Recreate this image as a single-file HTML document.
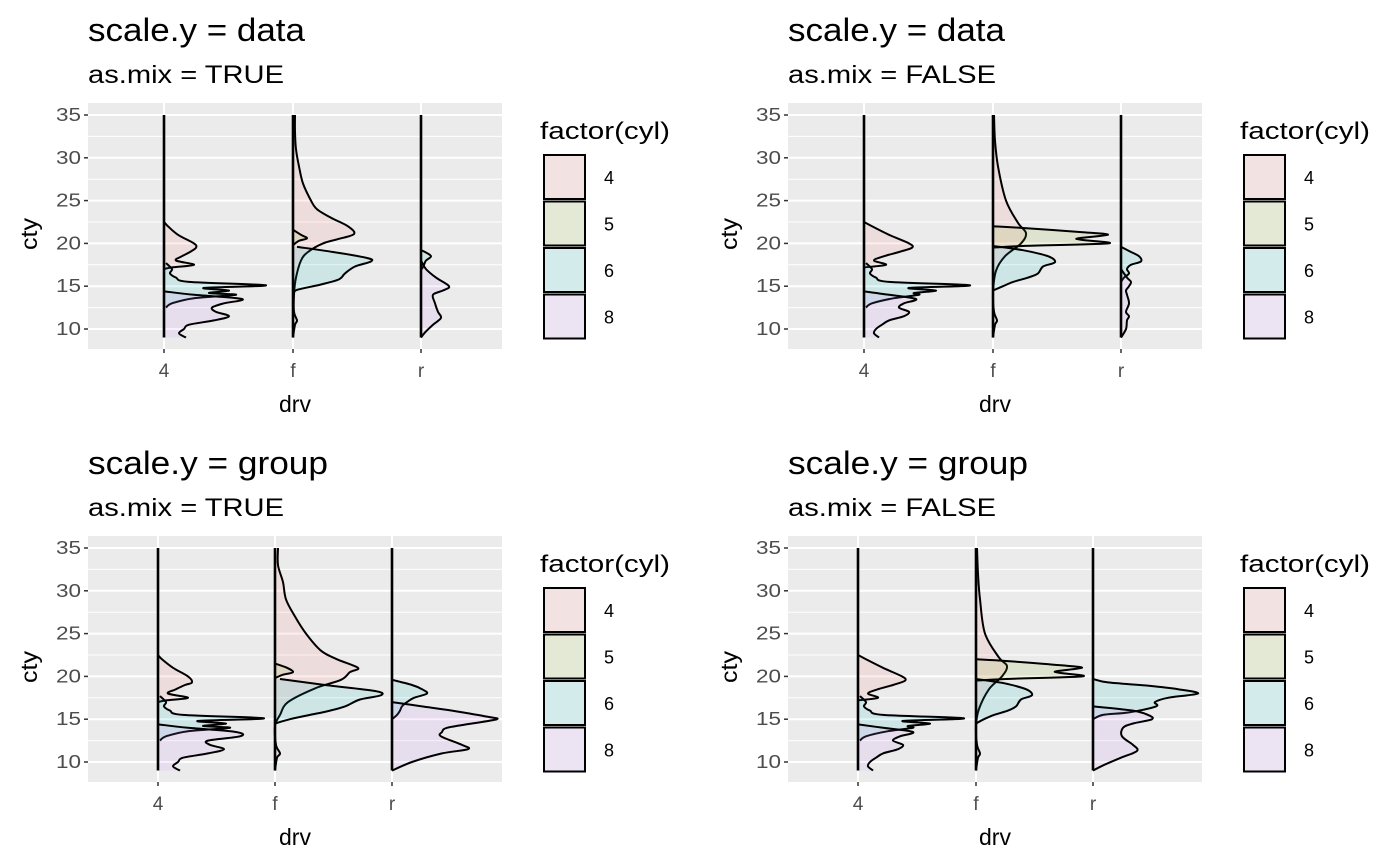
<!DOCTYPE html>
<html><head><meta charset="utf-8">
<style>
html,body{margin:0;padding:0;background:#fff;}
svg{display:block;font-family:"Liberation Sans",Arial,sans-serif;}
</style></head>
<body>
<svg id="chart" width="1400" height="866" viewBox="0 0 1400 866" xmlns="http://www.w3.org/2000/svg"></svg>
<script>
// ---- data ----
const categories = ["4", "f", "r"];
const cylLevels = ["4", "5", "6", "8"];
const cylColors = ["#F8766D", "#7CAE00", "#00BFC4", "#C77CFF"];
const yTicks = [10, 15, 20, 25, 30, 35];
const panelTitles = ["scale.y = data", "scale.y = data", "scale.y = group", "scale.y = group"];
const panelSubtitles = ["as.mix = TRUE", "as.mix = FALSE", "as.mix = TRUE", "as.mix = FALSE"];

// density curves: [cty, density] pairs, per panel -> drv -> cyl
const tlDrv4Cyl4 = [[22.5,0],[22,4],[21,14],[20,30],[19.5,32],[19,26],[18.5,18],[18,12],[17.5,30],[17.2,8],[17,0]];
const tlDrv4Cyl6 = [[17.7,2],[17,8],[16.5,6],[16,12],[15.5,25],[15.1,102],[14.8,40],[14.5,65],[14.2,45],[14,72],[13.6,30],[13,8],[12.5,2]];
const tlDrv4Cyl8 = [[14.4,0],[14,30],[13.5,78],[13,60],[12.5,48],[12,52],[11.5,65],[11,50],[10.5,25],[10,20],[9.5,15],[9,22]];
const tlDrvfCyl4 = [[35,2],[33,2],[31,3],[29,6],[27,10],[25,18],[24,24],[23,38],[22,55],[21.1,61],[20.5,45],[20,30],[19,15],[18,8],[16,3],[14,1],[12,1],[11,4],[10.5,2],[9,0]];
const tlDrvfCyl5 = [[21.6,0],[21,8],[20.6,14],[20.3,6],[19.8,0]];
const tlDrvfCyl6 = [[19.6,4],[19,40],[18.3,74],[17.9,78],[17.3,62],[16.5,52],[15.8,46],[15.2,28],[14.6,5],[14.2,0]];
const tlDrvrCyl6 = [[19.2,0],[19,4],[18.5,10],[18,5],[17.5,3],[17,1]];
const tlDrvrCyl8 = [[18,0],[17,5],[16,15],[15,28],[14.5,22],[14,12],[13,14],[12,17],[11.3,20],[10.5,12],[9.6,4],[9,0]];

const trDrv4Cyl4 = [[22.5,0],[22,8],[21,25],[20,45],[19.5,48],[19,35],[18.5,20],[18,10],[17.5,22],[17.2,0]];
const trDrv4Cyl6 = [[17.7,2],[17,8],[16.5,6],[16,12],[15.5,25],[15.1,106],[14.8,45],[14.5,72],[14.2,50],[14,55],[13.6,30],[13,8],[12.5,2]];
const trDrv4Cyl8 = [[14.4,0],[14,25],[13.5,52],[13,40],[12.5,35],[12,45],[11.5,40],[11,25],[10.5,18],[10,12],[9.5,10],[9,15]];
const trDrvfCyl4 = [[35,1],[32,2],[29,5],[25,13],[22.4,25],[21.2,33],[20,28],[18.5,12],[16.8,3],[14.2,0],[12,1],[11,4],[10.5,2],[9,0]];
const trDrvfCyl5 = [[22,0],[21.8,30],[21.3,90],[21,115],[20.6,85],[20.4,90],[20,115],[19.7,30],[19.5,0]];
const trDrvfCyl6 = [[19.7,0],[19.2,30],[18.5,55],[17.8,62],[17.3,50],[16.5,45],[16,35],[15.5,20],[15,10],[14.5,0]];
const trDrvrCyl6 = [[19.6,0],[19,10],[18.5,18],[17.9,20],[17.5,10],[17,6],[16.5,8],[16,3],[15.5,0]];
const trDrvrCyl8 = [[17,0],[16,6],[15.5,10],[15,8],[14.5,5],[14,6],[13,8],[12,5],[11.5,8],[11,6],[10,5],[9,0]];

const blDrv4Cyl4 = [[22.5,0],[22,4],[21,15],[20,30],[19.3,34],[19,27],[18.5,18],[18,10],[17.5,30],[17.2,8],[17,0]];
const blDrv4Cyl6 = [[17.7,2],[17,8],[16.5,6],[16,12],[15.5,25],[15.1,106],[14.8,40],[14.5,68],[14.2,45],[14,72],[13.6,30],[13,8],[12.5,2]];
const blDrv4Cyl8 = [[14.4,0],[14,30],[13.5,78],[13,82],[12.5,50],[12,52],[11.5,66],[11,50],[10.5,25],[10,20],[9.5,15],[9,22]];
const blDrvfCyl4 = [[35,3],[33,3],[31,8],[29,11],[27,20],[25,31],[23,46],[22,62],[21,83],[20.5,75],[19.6,66],[18.6,40],[17,13],[15.5,5],[14.2,0],[12,1],[11,5],[10.5,2],[9,0]];
const blDrvfCyl5 = [[21.5,0],[21,12],[20.5,18],[20.2,8],[19.8,0]];
const blDrvfCyl6 = [[19.7,5],[19,50],[18.3,100],[17.8,106],[17.3,85],[16.5,70],[16,55],[15.5,35],[15,15],[14.5,0]];
const blDrvrCyl6 = [[19.6,0],[19,20],[18.5,30],[18,35],[17.5,22],[17,15],[16.5,10],[16,8],[15.5,5],[15,0]];
const blDrvrCyl8 = [[17,0],[16.5,30],[16,60],[15.3,95],[15,105],[14.5,80],[14,55],[13.5,50],[13,49],[12,70],[11.5,76],[11,50],[10,20],[9,0]];

const brDrv4Cyl4 = [[22.5,0],[22,8],[21,25],[20,44],[19.5,47],[19,35],[18.5,20],[18,10],[17.5,20],[17.2,0]];
const brDrv4Cyl6 = [[17.7,2],[17,8],[16.5,6],[16,12],[15.5,25],[15.1,106],[14.8,45],[14.5,72],[14.2,50],[14,55],[13.6,30],[13,8],[12.5,2]];
const brDrv4Cyl8 = [[14.4,0],[14,25],[13.5,55],[13,42],[12.5,35],[12,45],[11.5,40],[11,25],[10.5,18],[10,12],[9.5,10],[9,15]];
const brDrvfCyl4 = [[35,1],[32,2],[29,4],[25,9],[22.2,23],[21.2,31],[20,26],[18.5,13],[16.2,3],[14.2,0],[12,1],[11,4],[10.5,2],[9,0]];
const brDrvfCyl5 = [[22,0],[21.8,30],[21.3,85],[21,106],[20.6,80],[20.4,85],[20,106],[19.7,30],[19.5,0]];
const brDrvfCyl6 = [[19.7,0],[19.2,28],[18.5,50],[17.8,56],[17.3,45],[16.5,40],[16,32],[15.5,18],[15,8],[14.5,0]];
const brDrvrCyl6 = [[19.7,0],[19.3,15],[18.9,56],[18.5,85],[18,105],[17.5,75],[17,62],[16.5,63],[15.8,36],[15.5,10],[15,0]];
const brDrvrCyl8 = [[16.5,0],[16,40],[15.5,55],[15,59],[14.5,40],[14,30],[13,29],[12,40],[11.3,44],[10.5,28],[9.6,10],[9,0]];

const panelCurves = [
  [[tlDrv4Cyl4,null,tlDrv4Cyl6,tlDrv4Cyl8],[tlDrvfCyl4,tlDrvfCyl5,tlDrvfCyl6,null],[null,null,tlDrvrCyl6,tlDrvrCyl8]],
  [[trDrv4Cyl4,null,trDrv4Cyl6,trDrv4Cyl8],[trDrvfCyl4,trDrvfCyl5,trDrvfCyl6,null],[null,null,trDrvrCyl6,trDrvrCyl8]],
  [[blDrv4Cyl4,null,blDrv4Cyl6,blDrv4Cyl8],[blDrvfCyl4,blDrvfCyl5,blDrvfCyl6,null],[null,null,blDrvrCyl6,blDrvrCyl8]],
  [[brDrv4Cyl4,null,brDrv4Cyl6,brDrv4Cyl8],[brDrvfCyl4,brDrvfCyl5,brDrvfCyl6,null],[null,null,brDrvrCyl6,brDrvrCyl8]]
];

// ---- layout ----
const NS = "http://www.w3.org/2000/svg";
const svg = document.getElementById("chart");
function mk(tag, attrs, parent, text){
  const e = document.createElementNS(NS, tag);
  for (const k in attrs) e.setAttribute(k, attrs[k]);
  if (text !== undefined) e.textContent = text;
  (parent || svg).appendChild(e);
  return e;
}
function smoothPath(pts){
  let d = "";
  for (let i = 0; i < pts.length - 1; i++){
    const p0 = pts[Math.max(i-1,0)], p1 = pts[i], p2 = pts[i+1], p3 = pts[Math.min(i+2, pts.length-1)];
    const c1x = p1[0] + (p2[0]-p0[0])/6, c1y = p1[1] + (p2[1]-p0[1])/6;
    const c2x = p2[0] - (p3[0]-p1[0])/6, c2y = p2[1] - (p3[1]-p1[1])/6;
    d += ` C${c1x.toFixed(1)},${c1y.toFixed(1)} ${c2x.toFixed(1)},${c2y.toFixed(1)} ${p2[0].toFixed(1)},${p2[1].toFixed(1)}`;
  }
  return d;
}
function wide(el, len){
  el.setAttribute("textLength", len);
  el.setAttribute("lengthAdjust", "spacingAndGlyphs");
}

const panelOffsets = [[0,0],[700,0],[0,433],[700,433]];
const catPositions = [[164,293,421],[864,993,1121],[158,275,392],[858,976,1093]];
const titleLens = [217, 217, 240, 240];
const subLens = [196, 208, 196, 208];

panelOffsets.forEach((off, p) => {
  const ox = off[0], oy = off[1];
  const g = mk("g", {}, svg);
  
  
  const left = 88 + ox, right = 502 + ox, top = 103 + oy, bottom = 349 + oy;
  const yScale = v => 329 + oy - (v - 10) * 8.56;
  const cx = catPositions[p];

  const t = mk("text", {x: 88+ox, y: 41+oy, "font-size": 32, fill: "#000"}, g, panelTitles[p]);
  wide(t, titleLens[p]);
  
  
  const st = mk("text", {x: 88+ox, y: 83+oy, "font-size": 25, fill: "#000"}, g, panelSubtitles[p]);
  wide(st, subLens[p]);
  
  

  const bg = mk("rect", {x:left, y:top, width:right-left, height:bottom-top, fill:"#EBEBEB"}, g);
  
  
  for (let v = 12.5; v <= 32.5; v += 5){
    mk("line", {x1:left, x2:right, y1:yScale(v), y2:yScale(v), stroke:"#fff", "stroke-width":1}, g);
  }
  yTicks.forEach(v => {
    mk("line", {x1:left, x2:right, y1:yScale(v), y2:yScale(v), stroke:"#fff", "stroke-width":2}, g);
    mk("line", {x1:left-4, x2:left, y1:yScale(v), y2:yScale(v), stroke:"#333", "stroke-width":1.5}, g);
    const tl = mk("text", {x:left - 7 - 25, y:yScale(v)+6, "font-size":18, fill:"#4D4D4D"}, g, String(v));
    wide(tl, 25);
    
    
  });
  categories.forEach((c, i) => {
    mk("line", {x1:cx[i], x2:cx[i], y1:top, y2:bottom, stroke:"#fff", "stroke-width":2}, g);
    mk("line", {x1:cx[i], x2:cx[i], y1:bottom, y2:bottom+4, stroke:"#333", "stroke-width":1.5}, g);
    const xl = mk("text", {x:cx[i], y:bottom+28, "font-size":19, fill:"#4D4D4D", "text-anchor":"middle"}, g, c);
    
    
  });
  const xt = mk("text", {x:(left+right)/2 - 16, y:412+oy, "font-size":23, fill:"#000"}, g, "drv");
  wide(xt, 32);
  
  
  const yt = mk("text", {x:-16, y:0, "font-size":23, fill:"#000", transform:`translate(${37+ox},${234+oy}) rotate(-90)`}, g, "cty");
  wide(yt, 32);
  
  

  // densities
  panelCurves[p].forEach((byCyl, i) => {
    const base = cx[i];
    byCyl.forEach((curve, k) => {
      if (!curve) return;
      const pts = curve.map(d => [base + d[1], yScale(d[0])]);
      const curveD = `M${pts[0][0]},${pts[0][1]}` + smoothPath(pts);
      const areaD = `M${base},${pts[0][1]} L${pts[0][0]},${pts[0][1]}` + smoothPath(pts) + ` L${base},${pts[pts.length-1][1]} Z`;
      const a = mk("path", {d: areaD, fill: cylColors[k], "fill-opacity": 0.12, stroke: "none"}, g);
      
      
      const l = mk("path", {d: curveD, fill: "none", stroke: "#000", "stroke-width": 2, "stroke-linejoin":"round"}, g);
      
      
    });
    const bl = mk("line", {x1:base, x2:base, y1:yScale(35), y2:yScale(9), stroke:"#000", "stroke-width":2.6}, g);
    
    
  });

  // legend
  const lg = mk("g", {}, g);
  
  
  const lt = mk("text", {x:540+ox, y:139+oy, "font-size":24, fill:"#000"}, lg, "factor(cyl)");
  wide(lt, 130);
  
  
  cylLevels.forEach((c, k) => {
    const ky = 155 + oy + k * 46.5;
    mk("rect", {x:544+ox, y:ky, width:41, height:44, fill:"#F2F2F2"}, lg);
    const r = mk("rect", {x:544+ox, y:ky, width:41, height:44, fill:cylColors[k], "fill-opacity":0.12, stroke:"#000", "stroke-width":2}, lg);
    
    
    const tx = mk("text", {x:604+ox, y:ky+29, "font-size":18, fill:"#000"}, lg, c);
    
    
  });
});
</script>
</body></html>
